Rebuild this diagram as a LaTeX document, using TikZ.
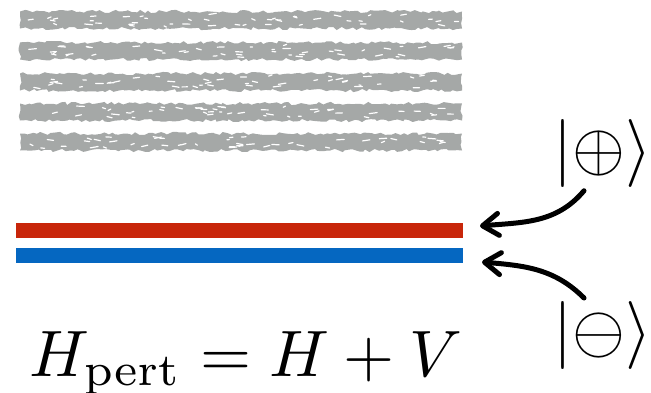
\documentclass[tikz,border=0pt]{standalone}
\usepackage{amsmath, amssymb}
\usepackage{xcolor}
\usepackage{tikz}
\usetikzlibrary{arrows.meta, positioning, decorations.pathmorphing, calc}
\definecolor{rojo}{HTML}{C8260A}
\definecolor{azul}{HTML}{0567C1}
\definecolor{gris}{HTML}{A5A8A7}
\tikzset{
  every picture/.style={>=Stealth},
  nivel/.style={decorate, decoration={random steps, segment length=2pt, amplitude=0.8pt}, fill=gris},
  mancha/.style={white, line width=0.6pt, line cap=round},
  ket/.style={inner sep=0pt, font=\fontsize{10}{12}\selectfont, scale=3.4, transform shape},
  ecuacion/.style={inner sep=0pt, font=\fontsize{10}{12}\selectfont, scale=3.28, transform shape},
  flecha/.style={-{Straight Barb[length=8pt, width=11pt, round]}, line width=2.5pt, line cap=round},
}

\begin{document}
\begin{tikzpicture}[x=0.5pt, y=0.5pt]
  \useasboundingbox (0,0) rectangle (651,-392);
  % continuum of states
  \pgfmathsetseed{7}
  \foreach \yy in {20,51,82,112,142}{
    \fill[nivel] (20,-\yy-8.5) rectangle (462,-\yy+8.5);
    \foreach \k in {1,...,45}{
      \pgfmathsetmacro{\xa}{25+rnd*430}
      \pgfmathsetmacro{\ya}{\yy+(rnd-0.5)*12}
      \pgfmathsetmacro{\la}{2+rnd*6}
      \draw[mancha] (\xa,-\ya) -- ++(\la,{(rnd-0.5)*3});
    }
  }
  % split pair of levels
  \fill[rojo] (16,-223) rectangle (463,-237.5);
  \fill[azul] (16,-248) rectangle (463,-262.5);
  \coordinate (projo) at (480,-226);
  \coordinate (pazul) at (482,-262);
  % states
  \node[ket, anchor=north] (mas) at (603,-118) {$\lvert\oplus\rangle$};
  \node[ket, anchor=north] (menos) at (603,-300) {$\lvert\ominus\rangle$};
  \node[ecuacion, anchor=base west] (ham) at (28,-376) {$H_{\mathrm{pert}} = H + V$};
  \draw[flecha] ([xshift=-9.5pt, yshift=-1pt]mas.south) to[out=-130, in=5] (projo);
  \draw[flecha] ([xshift=-9.5pt, yshift=1pt]menos.north) to[out=135, in=-5] (pazul);
\end{tikzpicture}
\end{document}
